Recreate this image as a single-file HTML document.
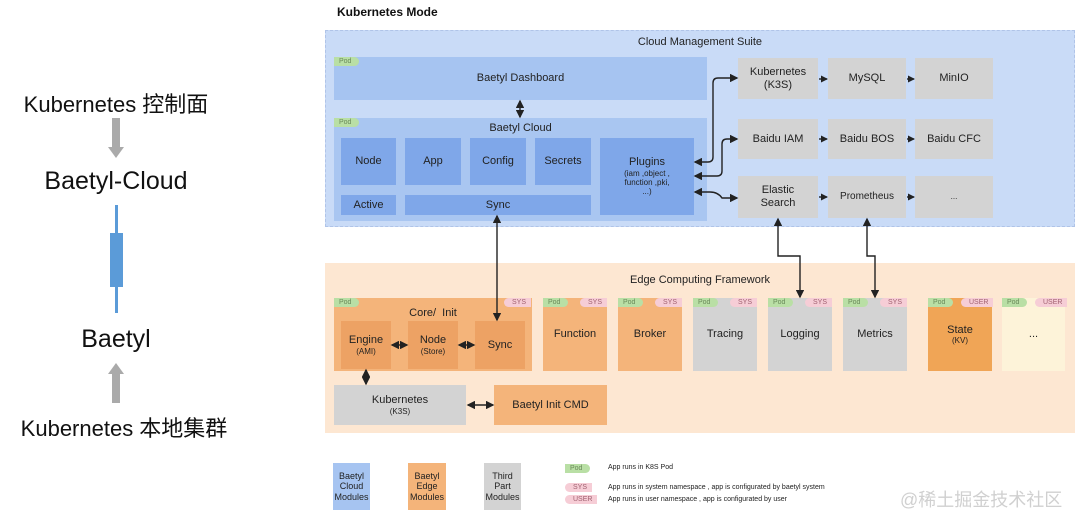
<!DOCTYPE html>
<html><head><meta charset="utf-8"><style>
body{margin:0;width:1080px;height:526px;background:#fff;position:relative;overflow:hidden;font-family:"Liberation Sans","Noto Sans CJK SC",sans-serif;}
.a{position:absolute;box-sizing:border-box;}
.c{display:flex;align-items:center;justify-content:center;text-align:center;flex-direction:column;color:#222;font-size:11px;line-height:1.15;}
.s{font-size:8px;}
.pod{position:absolute;font-size:7px;color:#6a8a5a;background:#b9dfa5;padding:1px 8px 1px 5px;border-radius:0 6px 6px 0;}
.sys{position:absolute;font-size:7px;color:#a06070;background:#f6cdd6;padding:1px 5px 1px 8px;border-radius:6px 0 0 6px;}
.g{background:#d3d3d3;}
.o{background:#f4ad6d;}
.b{background:#7fa7e9;}
</style></head><body>
<!-- left -->
<div class="a" style="left:0;width:232px;top:87px;text-align:center;font-size:22px;color:#111">Kubernetes 控制面</div>
<div class="a" style="left:112px;top:118px;width:8px;height:30px;background:#aaa"></div>
<div class="a" style="left:108px;top:147px;border-left:8px solid transparent;border-right:8px solid transparent;border-top:11px solid #aaa"></div>
<div class="a" style="left:0;width:232px;top:167px;text-align:center;font-size:25px;color:#111">Baetyl-Cloud</div>
<div class="a" style="left:115px;top:205px;width:3px;height:108px;background:#5b9bd8"></div>
<div class="a" style="left:110px;top:233px;width:13px;height:54px;background:#5b9bd8"></div>
<div class="a" style="left:0;width:232px;top:325px;text-align:center;font-size:25px;color:#111">Baetyl</div>
<div class="a" style="left:108px;top:363px;border-left:8px solid transparent;border-right:8px solid transparent;border-bottom:11px solid #aaa"></div>
<div class="a" style="left:112px;top:373px;width:8px;height:30px;background:#aaa"></div>
<div class="a" style="left:0;width:248px;top:411px;text-align:center;font-size:22px;color:#111">Kubernetes 本地集群</div>

<div class="a" style="left:337px;top:5px;font-size:12px;font-weight:bold;color:#111">Kubernetes Mode</div>
<!-- cloud -->
<div class="a" style="left:325px;top:30px;width:750px;height:197px;background:#c9dbf7;border:1px dashed #b0c4e8"></div>
<div class="a" style="left:560px;width:280px;top:36px;text-align:center;font-size:11px;color:#222">Cloud Management Suite</div>
<div class="a c" style="left:334px;top:57px;width:373px;height:43px;background:#a6c4f1">Baetyl Dashboard</div>
<span class="pod" style="left:334px;top:57px">Pod</span>
<div class="a" style="left:334px;top:118px;width:373px;height:103px;background:#a9c6f1"></div>
<span class="pod" style="left:334px;top:118px">Pod</span>
<div class="a" style="left:334px;width:373px;top:122px;text-align:center;font-size:11px;color:#222">Baetyl Cloud</div>
<div class="a c b" style="left:341px;top:138px;width:55px;height:47px">Node</div>
<div class="a c b" style="left:405px;top:138px;width:56px;height:47px">App</div>
<div class="a c b" style="left:470px;top:138px;width:56px;height:47px">Config</div>
<div class="a c b" style="left:535px;top:138px;width:56px;height:47px">Secrets</div>
<div class="a c b" style="left:341px;top:195px;width:55px;height:20px">Active</div>
<div class="a c b" style="left:405px;top:195px;width:186px;height:20px">Sync</div>
<div class="a c b" style="left:600px;top:138px;width:94px;height:77px">Plugins<span class="s">(iam ,object ,<br>function ,pki,<br>...)</span></div>
<div class="a c g" style="left:738px;top:58px;width:80px;height:41px">Kubernetes<br>(K3S)</div>
<div class="a c g" style="left:828px;top:58px;width:78px;height:41px">MySQL</div>
<div class="a c g" style="left:915px;top:58px;width:78px;height:41px">MinIO</div>
<div class="a c g" style="left:738px;top:119px;width:80px;height:40px">Baidu IAM</div>
<div class="a c g" style="left:828px;top:119px;width:78px;height:40px">Baidu BOS</div>
<div class="a c g" style="left:915px;top:119px;width:78px;height:40px">Baidu CFC</div>
<div class="a c g" style="left:738px;top:176px;width:80px;height:42px">Elastic<br>Search</div>
<div class="a c g" style="left:828px;top:176px;width:78px;height:42px;font-size:10px">Prometheus</div>
<div class="a c g" style="left:915px;top:176px;width:78px;height:42px;font-size:8px">...</div>
<!-- edge -->
<div class="a" style="left:325px;top:263px;width:750px;height:170px;background:#fde7d2"></div>
<div class="a" style="left:560px;width:280px;top:274px;text-align:center;font-size:11px;color:#222">Edge Computing Framework</div>
<div class="a" style="left:334px;top:298px;width:198px;height:73px;background:#f4b47a"></div>
<span class="pod" style="left:334px;top:298px">Pod</span><span class="sys" style="left:504px;top:298px">SYS</span>
<div class="a" style="left:334px;width:198px;top:307px;text-align:center;font-size:11px;color:#222">Core/&nbsp; Init</div>
<div class="a c" style="left:341px;top:321px;width:50px;height:48px;background:#eda264">Engine<span class="s">(AMI)</span></div>
<div class="a c" style="left:408px;top:321px;width:50px;height:48px;background:#eda264">Node<span class="s">(Store)</span></div>
<div class="a c" style="left:475px;top:321px;width:50px;height:48px;background:#eda264">Sync</div>
<div class="a c o" style="left:543px;top:298px;width:64px;height:73px;background:#f4b47a">Function</div>
<span class="pod" style="left:543px;top:298px">Pod</span><span class="sys" style="left:580px;top:298px">SYS</span>
<div class="a c" style="left:618px;top:298px;width:64px;height:73px;background:#f4b47a">Broker</div>
<span class="pod" style="left:618px;top:298px">Pod</span><span class="sys" style="left:655px;top:298px">SYS</span>
<div class="a c g" style="left:693px;top:298px;width:64px;height:73px">Tracing</div>
<span class="pod" style="left:693px;top:298px">Pod</span><span class="sys" style="left:730px;top:298px">SYS</span>
<div class="a c g" style="left:768px;top:298px;width:64px;height:73px">Logging</div>
<span class="pod" style="left:768px;top:298px">Pod</span><span class="sys" style="left:805px;top:298px">SYS</span>
<div class="a c g" style="left:843px;top:298px;width:64px;height:73px">Metrics</div>
<span class="pod" style="left:843px;top:298px">Pod</span><span class="sys" style="left:880px;top:298px">SYS</span>
<div class="a c" style="left:928px;top:298px;width:64px;height:73px;background:#f0a556">State<span class="s">(KV)</span></div>
<span class="pod" style="left:928px;top:298px">Pod</span><span class="sys" style="left:961px;top:298px">USER</span>
<div class="a c" style="left:1002px;top:298px;width:63px;height:73px;background:#fdf3d9">...</div>
<span class="pod" style="left:1002px;top:298px">Pod</span><span class="sys" style="left:1035px;top:298px">USER</span>
<div class="a c g" style="left:334px;top:385px;width:132px;height:40px">Kubernetes<span class="s">(K3S)</span></div>
<div class="a c" style="left:494px;top:385px;width:113px;height:40px;background:#f4b47a">Baetyl Init CMD</div>
<!-- legend -->
<div class="a c" style="left:333px;top:463px;width:37px;height:47px;background:#a6c4f1;font-size:9px">Baetyl<br>Cloud<br>Modules</div>
<div class="a c" style="left:408px;top:463px;width:38px;height:47px;background:#f4b47a;font-size:9px">Baetyl<br>Edge<br>Modules</div>
<div class="a c" style="left:484px;top:463px;width:37px;height:47px;background:#d3d3d3;font-size:9px">Third<br>Part<br>Modules</div>
<span class="pod" style="left:565px;top:464px">Pod</span>
<span class="sys" style="left:565px;top:483px">SYS</span>
<span class="sys" style="left:565px;top:495px">USER</span>
<div class="a" style="left:608px;top:464px;font-size:7px;color:#222">App runs in K8S Pod</div>
<div class="a" style="left:608px;top:484px;font-size:7px;color:#222">App runs in system namespace , app is configurated by baetyl system</div>
<div class="a" style="left:608px;top:496px;font-size:7px;color:#222">App runs in user namespace , app is configurated by user</div>
<div class="a" style="left:900px;top:486px;font-size:18px;color:#d0d0d0">@稀土掘金技术社区</div>
<svg class="a" style="left:0;top:0" width="1080" height="526">
<defs><marker id="m" markerWidth="6" markerHeight="6" refX="5" refY="3" orient="auto-start-reverse"><path d="M0,0L6,3L0,6z" fill="#222"/></marker>
<marker id="n" markerUnits="userSpaceOnUse" markerWidth="7" markerHeight="7" refX="6" refY="3.5" orient="auto"><path d="M0,0L7,3.5L0,7z" fill="#222"/></marker></defs>
<g stroke="#222" stroke-width="1.4" fill="none">
<path d="M520 101V117" marker-start="url(#m)" marker-end="url(#m)"/>
<path d="M497 216V320" marker-start="url(#m)" marker-end="url(#m)"/>
<path d="M695 162H708Q713 162 713 157V83Q713 78 718 78H737" marker-start="url(#m)" marker-end="url(#m)"/>
<path d="M695 176H717Q722 176 722 171V144Q722 139 727 139H737" marker-start="url(#m)" marker-end="url(#m)"/>
<path d="M695 192H710Q718 192 722 198H737" marker-start="url(#m)" marker-end="url(#m)"/>
<path d="M778 219V256H800V297" marker-start="url(#m)" marker-end="url(#m)"/>
<path d="M867 219V256H875V297" marker-start="url(#m)" marker-end="url(#m)"/>
<path d="M392 345H407" marker-start="url(#m)" marker-end="url(#m)"/>
<path d="M459 345H474" marker-start="url(#m)" marker-end="url(#m)"/>
<path d="M366 370V384" marker-start="url(#m)" marker-end="url(#m)"/>
<path d="M468 405H493" marker-start="url(#m)" marker-end="url(#m)"/>
</g>
<g stroke="#222" stroke-width="1.4">
<path d="M819 79H827" marker-end="url(#n)"/><path d="M907 79H914" marker-end="url(#n)"/>
<path d="M819 139H827" marker-end="url(#n)"/><path d="M907 139H914" marker-end="url(#n)"/>
<path d="M819 197H827" marker-end="url(#n)"/><path d="M907 197H914" marker-end="url(#n)"/>
</g></svg>
</body></html>
